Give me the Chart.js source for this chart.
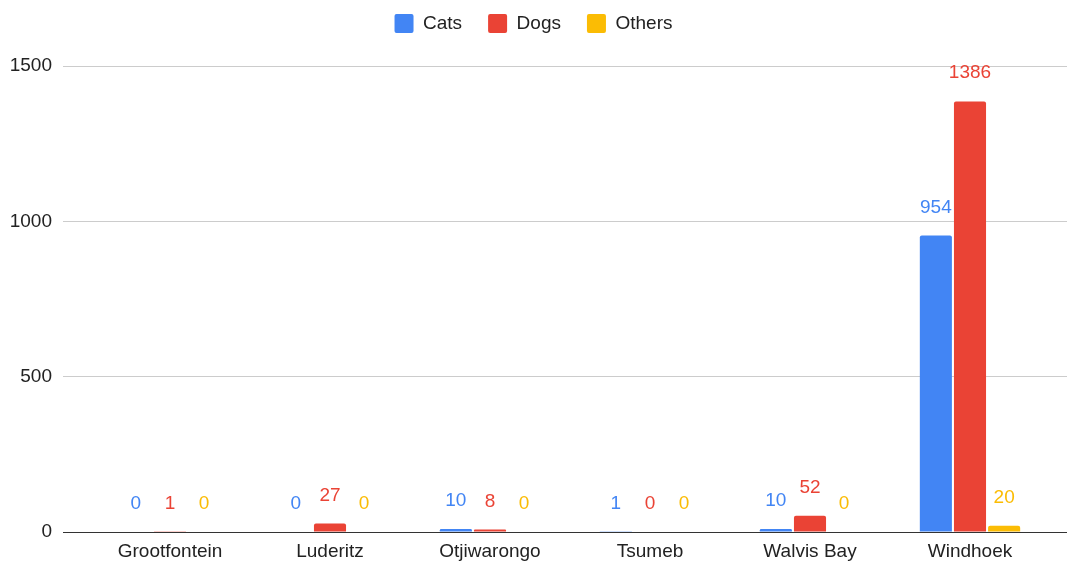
<!DOCTYPE html>
<html>
<head>
<meta charset="utf-8">
<script src="https://cdn.jsdelivr.net/npm/chart.js@4"></script>
<style>
  html, body { margin: 0; padding: 0; background: #fff; }
  #wrap { width: 1067px; height: 561px; }
</style>
</head>
<body>
<div id="wrap"><canvas id="chart"></canvas></div>
<script>
const towns = ['Grootfontein', 'Luderitz', 'Otjiwarongo', 'Tsumeb', 'Walvis Bay', 'Windhoek'];
const cats = [0, 0, 10, 1, 10, 954];
const dogs = [1, 27, 8, 0, 52, 1386];
const others = [0, 0, 0, 0, 0, 20];
const yTicks = [0, 500, 1000, 1500];

const FONT = '"Liberation Sans", Arial, sans-serif';
const COLORS = { cats: '#4285F4', dogs: '#EA4335', others: '#FBBC04' };

// draws the value above every bar, in the series colour
const valueLabels = {
    id: 'valueLabels',
    afterDatasetsDraw(chart) {
        const ctx = chart.ctx;
        ctx.save();
        ctx.font = '19px ' + FONT;
        ctx.textAlign = 'center';
        ctx.textBaseline = 'alphabetic';
        chart.data.datasets.forEach((ds, i) => {
            chart.getDatasetMeta(i).data.forEach((bar, j) => {
                ctx.fillStyle = ds.backgroundColor;
                ctx.fillText(String(ds.data[j]), bar.x, bar.y - 23);
            });
        });
        ctx.restore();
    }
};

// extra room under the legend
const legendGap = {
    id: 'legendGap',
    beforeInit(chart) {
        const fit = chart.legend.fit;
        chart.legend.fit = function () {
            fit.bind(chart.legend)();
            this.height += 23;
        };
    }
};

function makeSet(label, data, color) {
    return {
        label,
        data,
        backgroundColor: color,
        borderRadius: { topLeft: 2, topRight: 2 },
        borderSkipped: 'bottom',
        categoryPercentage: 0.64,
        barPercentage: 0.94
    };
}

const gridColor = c => (c.tick && c.tick.value === 0) ? '#333333' : '#cccccc';

new Chart(document.getElementById('chart').getContext('2d'), {
    type: 'bar',
    data: {
        labels: towns,
        datasets: [
            makeSet('Cats', cats, COLORS.cats),
            makeSet('Dogs', dogs, COLORS.dogs),
            makeSet('Others', others, COLORS.others)
        ]
    },
    options: {
        responsive: true,
        maintainAspectRatio: false,
        animation: false,
        layout: { padding: { top: -12, left: 0, right: 0, bottom: 0 } },
        scales: {
            x: {
                afterFit: s => { s.height = 29; },
                grid: { display: false, drawTicks: false },
                border: { display: false },
                ticks: { color: '#222', font: { family: FONT, size: 19 }, padding: 8 }
            },
            y: {
                min: 0,
                max: 1500,
                afterBuildTicks: s => { s.ticks = yTicks.map(v => ({ value: v })); },
                afterFit: s => { s.width = 90; },
                border: { display: false },
                grid: { color: gridColor, tickLength: 27, lineWidth: 1 },
                ticks: {
                    color: '#222',
                    font: { family: FONT, size: 19 },
                    padding: 11,
                    callback: v => String(v)
                }
            },
            yRight: {
                position: 'right',
                min: 0,
                max: 1500,
                afterBuildTicks: s => { s.ticks = yTicks.map(v => ({ value: v })); },
                afterFit: s => { s.width = 17; },
                border: { display: false },
                grid: { color: gridColor, tickLength: 17, drawOnChartArea: false },
                ticks: { display: false }
            }
        },
        plugins: {
            legend: {
                position: 'top',
                labels: {
                    color: '#222',
                    font: { family: FONT, size: 19 },
                    boxWidth: 19,
                    boxHeight: 19,
                    useBorderRadius: true,
                    borderRadius: 2,
                    padding: 26
                }
            },
            tooltip: { enabled: false }
        }
    },
    plugins: [valueLabels, legendGap]
});
</script>
</body>
</html>
